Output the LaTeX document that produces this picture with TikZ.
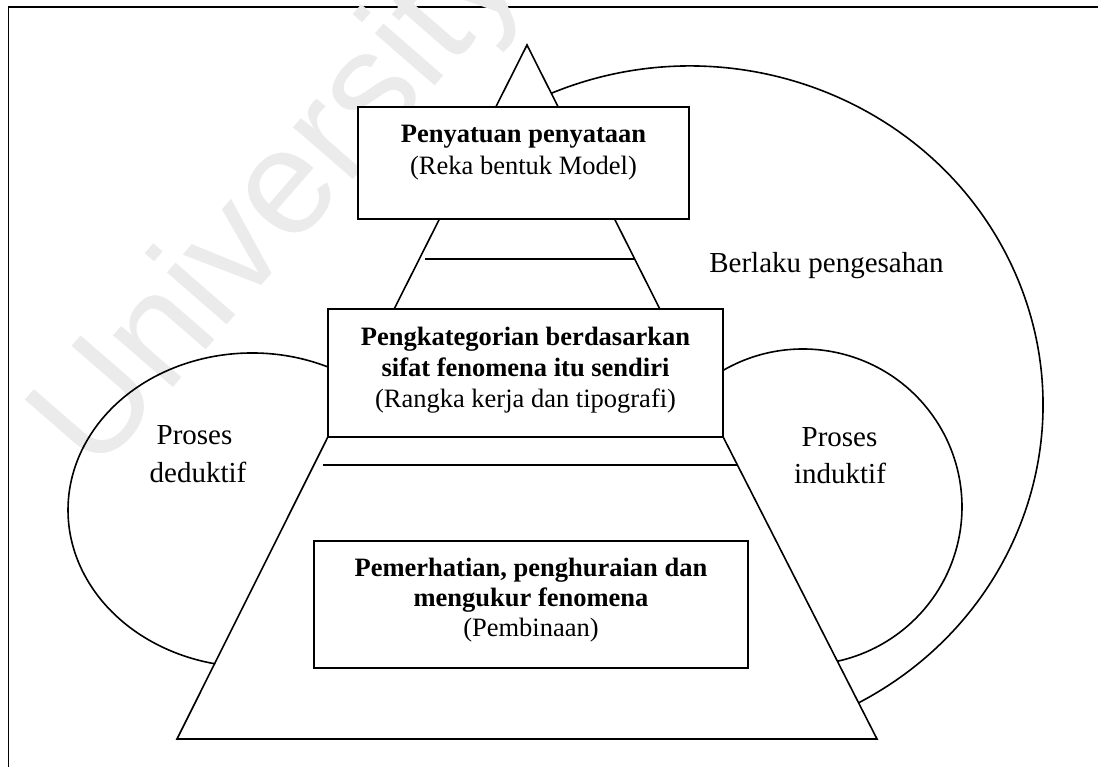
\documentclass[tikz,border=0pt]{standalone}
\usepackage{fontspec}
\setmainfont{Liberation Serif}
\newfontfamily\wmfont{Liberation Sans}
\begin{document}
\begin{tikzpicture}[x=1pt,y=-1pt,
  ln/.style={line width=1.6pt, line join=miter},
  box/.style={draw, line width=1.9pt, fill=white, inner sep=0pt, outer sep=0pt},
  lbl/.style={font=\fontsize{26.5}{30}\selectfont, anchor=base, inner sep=0pt},
  side/.style={font=\fontsize{29}{33}\selectfont, anchor=base, inner sep=0pt},
  stampstyle/.style={text=black!8, font=\wmfont\fontsize{150}{150}\selectfont, rotate=49, anchor=base west, inner sep=0pt}
]
\useasboundingbox (0,0) rectangle (1098,767);

% page frame (left and top edges)
\draw[line width=1.6pt] (8.4,767) -- (8.4,7.3) -- (1098,7.3);

% repository stamp
\node[stampstyle] (stamp) at (95,477) {University};

% process loops
\draw[ln] (252,510) ++(-60:184 and 157)
  arc[start angle=-60, end angle=-258.5, x radius=184, y radius=157];
\draw[ln] (803,507) ++(-125:159 and 158)
  arc[start angle=-125, end angle=77.5, x radius=159, y radius=158];
\draw[ln] (690,405) ++(-113.1:353 and 339)
  arc[start angle=-113.1, end angle=61.5, x radius=353, y radius=339];

% pyramid
\coordinate (apex) at (527,45);
\coordinate (bl) at (177,739);
\coordinate (br) at (877,739);
\draw[ln] (394,309.3) -- (apex) -- (660,309.3);

% levels
\node[box, minimum width=331pt, minimum height=112.3pt] (topbox) at (523.5,163.1) {};
\node[box, minimum width=395pt, minimum height=127.4pt] (midbox) at (525.5,373) {};
\node[box, minimum width=434.3pt, minimum height=127pt] (lowbox) at (531.2,604.2) {};

\draw[ln] (midbox.south west) -- (bl) -- (br) -- (midbox.south east);
\coordinate (h1a) at (425,259);
\coordinate (h1b) at (634,259);
\coordinate (h2a) at (323,465);
\coordinate (h2b) at (737,465);
\draw[ln] (h1a) -- (h1b);
\draw[ln] (h2a) -- (h2b);

% texts in the levels
\node[lbl] (t1a) at (523.5,143) {\textbf{Penyatuan penyataan}};
\node[lbl] (t1b) at (523.5,175) {(Reka bentuk Model)};
\node[lbl] (t2a) at (525.5,345) {\textbf{Pengkategorian berdasarkan}};
\node[lbl] (t2b) at (525.5,376) {\textbf{sifat fenomena itu sendiri}};
\node[lbl] (t2c) at (525.5,407) {(Rangka kerja dan tipografi)};
\node[lbl] (t3a) at (531,576.7) {\textbf{Pemerhatian, penghuraian dan}};
\node[lbl] (t3b) at (531,606.7) {\textbf{mengukur fenomena}};
\node[lbl] (t3c) at (531,636.7) {(Pembinaan)};

% loop labels
\node[side] (val) at (826.5,272.3) {Berlaku pengesahan};
\node[side] (ded1) at (194.5,444) {Proses};
\node[side] (ded2) at (198,482.7) {deduktif};
\node[side] (ind1) at (839.5,446) {Proses};
\node[side] (ind2) at (840,483.3) {induktif};
\end{tikzpicture}
\end{document}
